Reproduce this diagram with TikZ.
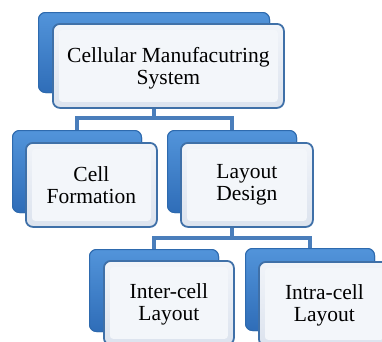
\documentclass[tikz,border=0pt]{standalone}
\usepackage{fontspec}
\setmainfont{Liberation Serif}
\newfontfamily\tnr{Liberation Serif}
\begin{document}
\begin{tikzpicture}[x=1pt,y=-1pt,
  backbox/.style={draw=bordblue,line width=1pt,rounded corners=7pt,top color=backtop,bottom color=backbot,anchor=north west,inner sep=0pt},
  frontbox/.style={draw=frontbord,line width=1.8pt,rounded corners=7pt,top color=fronttop,bottom color=frontbot,anchor=north west,inner sep=0pt,minimum height=84pt},
  bevel/.style={fill=bevelfill,draw=none,rounded corners=3pt},
  lbl/.style={align=center,text=black,inner sep=0pt,font=\tnr\fontsize{21.5}{22}\selectfont},
  conn/.style={draw=connblue,line width=4.5pt}]
\definecolor{bordblue}{HTML}{2E6AAE}
\definecolor{backtop}{HTML}{5294DA}
\definecolor{backbot}{HTML}{2F6DB8}
\definecolor{frontbord}{HTML}{3F70A8}
\definecolor{fronttop}{HTML}{F1F4F9}
\definecolor{frontbot}{HTML}{DCE3EE}
\definecolor{bevelfill}{HTML}{F3F6FA}
\definecolor{connblue}{HTML}{4A7EBB}
\useasboundingbox (0,0) rectangle (382,341);
\clip (0,0) rectangle (382,341);
\fill[white] (0,0) rectangle (382,341);
% back boxes
\node[backbox,minimum width=231pt,minimum height=80pt] (bTop) at (38,12) {};
\node[backbox,minimum width=129pt,minimum height=82pt] (bCell) at (12,130) {};
\node[backbox,minimum width=129pt,minimum height=82pt] (bLay) at (167,130) {};
\node[backbox,minimum width=129pt,minimum height=82pt] (bInter) at (89,249) {};
\node[backbox,minimum width=129pt,minimum height=82pt] (bIntra) at (245,248) {};
% connectors
\draw[conn] (bTop.south) -- ++(0,25) coordinate (jTop) -| (bCell.north);
\draw[conn] (jTop) -| (bLay.north);
\draw[conn] (bLay.south) -- ++(0,25) coordinate (jLay) -| (bInter.north);
\draw[conn] (jLay) -| (bIntra.north);
% redraw back boxes over connectors
\node[backbox,minimum width=231pt,minimum height=80pt] at (38,12) {};
\node[backbox,minimum width=129pt,minimum height=82pt] at (12,130) {};
\node[backbox,minimum width=129pt,minimum height=82pt] at (167,130) {};
\node[backbox,minimum width=129pt,minimum height=82pt] at (89,249) {};
\node[backbox,minimum width=129pt,minimum height=82pt] at (245,248) {};
% front boxes
\node[frontbox,minimum width=231pt] (fTop) at (52,23) {};
\fill[bevel] ([xshift=7pt,yshift=-7pt]fTop.north west) rectangle ([xshift=-7pt,yshift=7pt]fTop.south east);
\node[lbl] (tTop) at ([yshift=-2pt]fTop.center) {Cellular Manufacutring\\System};
\node[frontbox,minimum width=131pt] (fCell) at (25,142) {};
\fill[bevel] ([xshift=7pt,yshift=-7pt]fCell.north west) rectangle ([xshift=-7pt,yshift=7pt]fCell.south east);
\node[lbl] (tCell) at (fCell.center) {Cell\\Formation};
\node[frontbox,minimum width=132pt] (fLay) at (180,142) {};
\fill[bevel] ([xshift=7pt,yshift=-7pt]fLay.north west) rectangle ([xshift=-7pt,yshift=7pt]fLay.south east);
\node[lbl] (tLay) at (fLay.center) {Layout\\Design};
\node[frontbox,minimum width=130pt] (fInter) at (103,260) {};
\fill[bevel] ([xshift=7pt,yshift=-7pt]fInter.north west) rectangle ([xshift=-7pt,yshift=7pt]fInter.south east);
\node[lbl] (tInter) at ([yshift=-1pt]fInter.center) {Inter-cell\\Layout};
\node[frontbox,minimum width=131pt] (fIntra) at (258,261) {};
\fill[bevel] ([xshift=7pt,yshift=-7pt]fIntra.north west) rectangle ([xshift=-7pt,yshift=7pt]fIntra.south east);
\node[lbl] (tIntra) at ([yshift=-1pt]fIntra.center) {Intra-cell\\Layout};
\end{tikzpicture}
\end{document}
